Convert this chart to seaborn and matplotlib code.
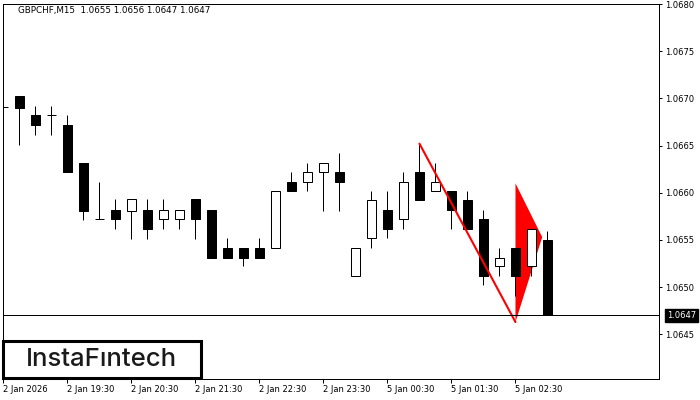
"""
GBPCHF M15 candlestick chart with a bearish pennant marking

"""

# %% --------------------------------------------------------------------------
# Imports
# -----------------------------------------------------------------------------
import numpy as np
import pandas as pd
import matplotlib
matplotlib.use("Agg")
import matplotlib.pyplot as plt
from matplotlib.patches import Rectangle
import seaborn as sns

# %% --------------------------------------------------------------------------
# Data
# -----------------------------------------------------------------------------
symbol_title = "GBPCHF,M15  1.0655 1.0656 1.0647 1.0647"

opens = [1.06691, 1.06702, 1.06682, 1.06682, 1.06672, 1.06632, 1.06572, 1.06582,
         1.06581, 1.06582, 1.06572, 1.06572, 1.06593, 1.06582, 1.06542, 1.06542,
         1.06542, 1.06542, 1.06611, 1.06611, 1.06622, 1.06622, 1.06512, 1.06552,
         1.06582, 1.06572, 1.06622, 1.06602, 1.06602, 1.06592, 1.06572, 1.06522,
         1.06542, 1.06522, 1.0655]
highs = [1.06702, 1.06702, 1.06692, 1.06692, 1.06682, 1.06632, 1.06611, 1.06593,
         1.06593, 1.06593, 1.06593, 1.06582, 1.06593, 1.06582, 1.06552, 1.06542,
         1.06552, 1.06602, 1.06622, 1.06632, 1.06632, 1.06642, 1.06542, 1.06602,
         1.06602, 1.06622, 1.06652, 1.06632, 1.06602, 1.06602, 1.06582, 1.06542,
         1.06542, 1.06562, 1.0656]
lows = [1.06681, 1.06651, 1.06661, 1.06661, 1.06622, 1.06571, 1.06572, 1.06562,
        1.06551, 1.06551, 1.06562, 1.06562, 1.06551, 1.06531, 1.06531, 1.06522,
        1.06531, 1.06542, 1.06602, 1.06602, 1.06581, 1.06581, 1.06512, 1.06542,
        1.06552, 1.06562, 1.06592, 1.06602, 1.06562, 1.06562, 1.06502, 1.06512,
        1.06491, 1.06512, 1.0647]
closes = [1.06691, 1.06690, 1.06672, 1.06682, 1.06622, 1.06581, 1.06572, 1.06572,
          1.06593, 1.06562, 1.06582, 1.06582, 1.06572, 1.06531, 1.06531, 1.06531,
          1.06531, 1.06602, 1.06602, 1.06622, 1.06632, 1.06611, 1.06542, 1.06592,
          1.06562, 1.06611, 1.06592, 1.06611, 1.06582, 1.06562, 1.06512, 1.06531,
          1.06512, 1.06562, 1.0647]

time_labels = ["2 Jan 2026", "2 Jan 19:30", "2 Jan 20:30", "2 Jan 21:30",
               "2 Jan 22:30", "2 Jan 23:30", "5 Jan 00:30", "5 Jan 01:30",
               "5 Jan 02:30"]
time_label_bars = [0, 4, 8, 12, 16, 20, 24, 28, 32]

price_ticks = [1.0645, 1.0650, 1.0655, 1.0660, 1.0665, 1.0670, 1.0675, 1.0680]
last_price = 1.0647

# pennant: pole from bar 26 high down to bar 32, flag triangle after it
pole_bars = [26, 32]
pole_prices = [1.06652, 1.06463]
flag_bars = [32, 32, 33.67]
flag_prices = [1.06610, 1.06463, 1.06553]

# %% --------------------------------------------------------------------------
# Plot
# -----------------------------------------------------------------------------
df = pd.DataFrame({"open": opens, "high": highs, "low": lows, "close": closes})
df["bar"] = np.arange(len(df))
df["bull"] = df["close"] > df["open"]

sns.set_theme(style="white")
plt.rcParams["font.family"] = ["DejaVu Sans"]

fig = plt.figure(figsize=(7, 4), dpi=100)
ax = fig.add_axes([3 / 700, 1 - 378.7 / 400, 656 / 700, 374.7 / 400])

# flag triangle sits under the candles
ax.fill(flag_bars, flag_prices, color="red", lw=0, zorder=1)

lw = 0.72
ax.vlines(df["bar"], df["low"], df["high"], color="black", lw=lw, zorder=2)
body_bottom = df[["open", "close"]].min(axis=1)
body_height = (df["close"] - df["open"]).abs()
ax.bar(df["bar"], body_height, bottom=body_bottom, width=0.62,
       color=np.where(df["bull"], "white", "black"), edgecolor="black",
       linewidth=lw, zorder=3)

sns.lineplot(x=pole_bars, y=pole_prices, color="red", lw=1.5, ax=ax, zorder=4)

ax.axhline(last_price, color="black", lw=lw, zorder=4)

ax.set_xlim(-0.03, 40.97)
ax.set_ylim(1.06403, 1.0680)

ax.set_xticks(time_label_bars)
ax.set_xticklabels(time_labels, fontsize=6, ha="left")
ax.set_yticks(price_ticks)
ax.set_yticklabels([f"{p:.4f}" for p in price_ticks], fontsize=6)
ax.yaxis.tick_right()
ax.tick_params(axis="x", direction="out", length=3, width=lw, pad=1.5,
               colors="black", bottom=True)
ax.tick_params(axis="y", direction="out", length=2.2, width=lw, pad=2.5,
               colors="black", right=True, left=False)
for side in ax.spines.values():
    side.set_color("black")
    side.set_linewidth(lw)
ax.grid(False)

# last price tag on the price scale
ax.annotate(f"{last_price:.4f}", xy=(1, last_price),
            xycoords=("axes fraction", "data"), xytext=(5.5, 0),
            textcoords="offset points", fontsize=6, color="white",
            va="center", ha="left",
            bbox=dict(boxstyle="square,pad=0.25", fc="black", ec="black"),
            annotation_clip=False)

fig.text(18 / 700, 1 - 11 / 400, symbol_title, fontsize=6.3, va="center",
         ha="left", color="black")

# logo box
fig.patches.append(Rectangle((3 / 700, 1 - 378 / 400), 198 / 700, 37 / 400,
                             transform=fig.transFigure, fill=False,
                             ec="black", lw=2.2, zorder=5))
fig.text(101 / 700, 1 - 359.5 / 400, "InstaF\u0131ntech", fontsize=18.5,
         family=["Inter", "DejaVu Sans"], fontweight="medium", ha="center",
         va="center", color="#1a1a1a", zorder=6)

fig.savefig("out.png", dpi=100)
